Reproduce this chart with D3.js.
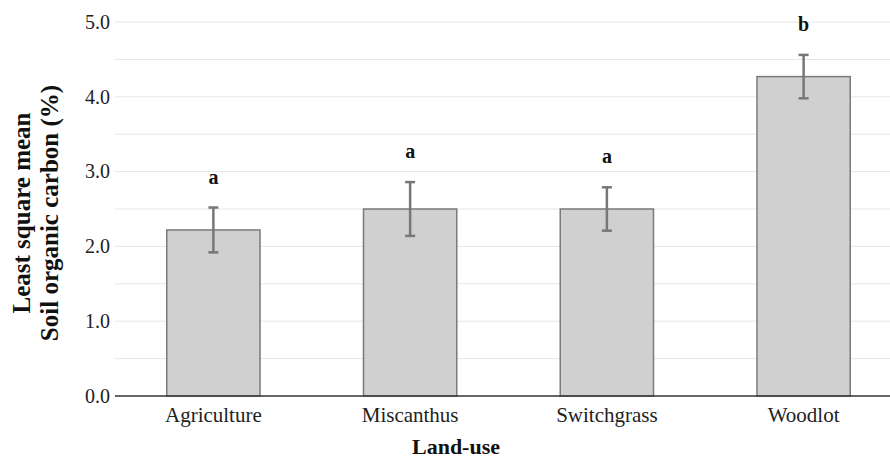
<!DOCTYPE html>
<html>
<head>
<meta charset="utf-8">
<script src="https://cdn.jsdelivr.net/npm/d3@7"></script>
<style>
  body { margin: 0; background: #fff; }
  svg { display: block; font-family: 'Liberation Serif', 'Times New Roman', serif; }
  .grid line { stroke: #e6e6e6; stroke-width: 1; }
  .bar { fill: #d0d0d0; stroke: #7a7a7a; stroke-width: 1.5; }
  .err { stroke: #777; stroke-width: 2.5; fill: none; }
</style>
</head>
<body>
<div id="chart"></div>
<script>
const categories = ['Agriculture', 'Miscanthus', 'Switchgrass', 'Woodlot']
const means = [2.22, 2.50, 2.50, 4.27]
const errors = [0.30, 0.36, 0.29, 0.29]
const letters = ['a', 'a', 'a', 'b']
const yTicks = [0, 1, 2, 3, 4, 5]
const gridTicks = [0.5, 1, 1.5, 2, 2.5, 3, 3.5, 4, 4.5, 5]

const width = 890
const height = 460
const margin = { top: 22, right: -12, bottom: 64, left: 115 }

const svg = d3.select('#chart')
  .append('svg')
  .attr('width', width)
  .attr('height', height)

const x = d3.scaleBand()
  .domain(categories)
  .range([margin.left, width - margin.right])
  .paddingInner(0.526)
  .paddingOuter(0.263)

const y = d3.scaleLinear()
  .domain([0, 5])
  .range([height - margin.bottom, margin.top])

// gridlines
svg.append('g')
  .attr('class', 'grid')
  .selectAll('line')
  .data(gridTicks)
  .join('line')
  .attr('x1', margin.left)
  .attr('x2', width)
  .attr('y1', d => y(d))
  .attr('y2', d => y(d))

// y tick labels
svg.append('g')
  .selectAll('text')
  .data(yTicks)
  .join('text')
  .attr('x', margin.left - 5)
  .attr('y', d => y(d))
  .attr('dy', '0.34em')
  .attr('text-anchor', 'end')
  .attr('font-size', 20)
  .attr('fill', '#222')
  .text(d => d3.format('.1f')(d))

// bars
svg.append('g')
  .selectAll('rect')
  .data(categories)
  .join('rect')
  .attr('class', 'bar')
  .attr('x', d => x(d))
  .attr('width', x.bandwidth())
  .attr('y', (d, i) => y(means[i]))
  .attr('height', (d, i) => y(0) - y(means[i]))

// error bars
const errG = svg.append('g').attr('class', 'err')
categories.forEach((c, i) => {
  const cx = x(c) + x.bandwidth() / 2
  const hi = y(means[i] + errors[i])
  const lo = y(means[i] - errors[i])
  errG.append('line').attr('x1', cx).attr('x2', cx).attr('y1', hi).attr('y2', lo)
  errG.append('line').attr('x1', cx - 5).attr('x2', cx + 5).attr('y1', hi).attr('y2', hi)
  errG.append('line').attr('x1', cx - 5).attr('x2', cx + 5).attr('y1', lo).attr('y2', lo)
})

// significance letters
svg.append('g')
  .selectAll('text')
  .data(categories)
  .join('text')
  .attr('x', d => x(d) + x.bandwidth() / 2)
  .attr('y', (d, i) => y(means[i] + errors[i]) - 24)
  .attr('text-anchor', 'middle')
  .attr('font-size', 20)
  .attr('font-weight', 'bold')
  .attr('fill', '#111')
  .text((d, i) => letters[i])

// x axis line
svg.append('line')
  .attr('x1', margin.left)
  .attr('x2', width)
  .attr('y1', y(0))
  .attr('y2', y(0))
  .attr('stroke', '#333')
  .attr('stroke-width', 1.5)

// category labels
svg.append('g')
  .selectAll('text')
  .data(categories)
  .join('text')
  .attr('x', d => x(d) + x.bandwidth() / 2)
  .attr('y', y(0) + 26)
  .attr('text-anchor', 'middle')
  .attr('font-size', 21)
  .attr('fill', '#222')
  .text(d => d)

// axis titles
svg.append('text')
  .attr('x', 456)
  .attr('y', 454)
  .attr('text-anchor', 'middle')
  .attr('font-size', 22)
  .attr('font-weight', 'bold')
  .attr('fill', '#111')
  .text('Land-use')

const yTitle = svg.append('text')
  .attr('transform', 'translate(0,213) rotate(-90)')
  .attr('text-anchor', 'middle')
  .attr('font-size', 25)
  .attr('font-weight', 'bold')
  .attr('fill', '#111')

yTitle.append('tspan').attr('x', 0).attr('y', 30).text('Least square mean')
yTitle.append('tspan').attr('x', 0).attr('y', 58).text('Soil organic carbon (%)')
</script>
</body>
</html>
